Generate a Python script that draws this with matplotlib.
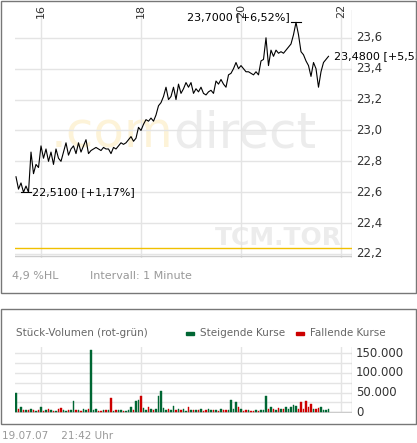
import numpy as np
import matplotlib
matplotlib.use("Agg")
import matplotlib.pyplot as plt
from matplotlib.patches import Rectangle

start_hour = 15.5
step_hour = 0.05
prices = [
    22.70, 22.62, 22.66, 22.60, 22.64, 22.60, 22.86, 22.72, 22.78, 22.76,
    22.90, 22.82, 22.88, 22.80, 22.86, 22.78, 22.88, 22.82, 22.80, 22.86,
    22.92, 22.84, 22.88, 22.90, 22.85, 22.92, 22.86, 22.90, 22.94, 22.85,
    22.87, 22.88, 22.89, 22.88, 22.87, 22.89, 22.88, 22.88, 22.85, 22.89,
    22.88, 22.90, 22.92, 22.91, 22.92, 22.94, 22.96, 22.93, 22.95, 23.02,
    23.00, 23.04, 23.07, 23.06, 23.08, 23.06, 23.10, 23.16, 23.18, 23.22,
    23.28, 23.20, 23.22, 23.28, 23.20, 23.30, 23.24, 23.27, 23.31, 23.28,
    23.31, 23.24, 23.27, 23.25, 23.28, 23.24, 23.23, 23.25, 23.26, 23.24,
    23.32, 23.30, 23.33, 23.30, 23.28, 23.36, 23.37, 23.40, 23.44, 23.40,
    23.42, 23.40, 23.38, 23.38, 23.37, 23.36, 23.38, 23.36, 23.45, 23.46,
    23.60, 23.42, 23.52, 23.48, 23.52, 23.50, 23.51, 23.50, 23.52, 23.54,
    23.56, 23.62, 23.70, 23.62, 23.51, 23.49, 23.45, 23.42, 23.35, 23.44,
    23.40, 23.28, 23.38, 23.44, 23.46, 23.48,
]
volumes = [
    50000, 8000, 12000, 5000, 4000, 6000, 9000, 4000, 3000, 5000,
    12000, 3000, 5000, 7000, 4000, 3000, 2000, 8000, 10000, 4000,
    3000, 6000, 5000, 27000, 4000, 6000, 3000, 8000, 5000, 7000,
    160000, 4000, 9000, 3000, 2000, 5000, 4000, 6000, 35000, 3000,
    5000, 4000, 6000, 3000, 2000, 5000, 14000, 4000, 28000, 30000,
    40000, 10000, 6000, 12000, 8000, 4000, 9000, 40000, 55000, 10000,
    5000, 8000, 4000, 15000, 6000, 7000, 4000, 8000, 3000, 12000,
    6000, 5000, 4000, 6000, 7000, 3000, 5000, 8000, 4000, 6000,
    5000, 3000, 7000, 4000, 5000, 6000, 30000, 8000, 26000, 12000,
    9000, 3000, 5000, 4000, 3000, 2000, 4000, 3000, 6000, 5000,
    42000, 9000, 12000, 8000, 6000, 10000, 7000, 9000, 14000, 8000,
    12000, 18000, 15000, 9000, 25000, 8000, 27000, 12000, 20000, 9000,
    7000, 10000, 12000, 6000, 5000, 8000,
]
hour_ticks = [16, 18, 20, 22]
price_ticks = [22.2, 22.4, 22.6, 22.8, 23.0, 23.2, 23.4, 23.6]
vol_ticks = [0, 50000, 100000, 150000]

GREEN = "#006633"
RED = "#cc0000"
GRID = "#e4e4e4"
GRAYTXT = "#999999"

t = start_hour + step_hour * np.arange(len(prices))
p = np.array(prices)

W, H = 417, 443
fig = plt.figure(figsize=(W / 100, H / 100), dpi=100)
fig.patch.set_facecolor("white")

def fx(px): return px / W
def fy(py): return 1 - py / H

fig.patches.append(Rectangle((fx(1), fy(293)), fx(415), 292 / H, transform=fig.transFigure,
                             fill=False, ec="#777777", lw=1))
fig.patches.append(Rectangle((fx(1), fy(424)), fx(415), 115 / H, transform=fig.transFigure,
                             fill=False, ec="#777777", lw=1))

ax = fig.add_axes([fx(15), fy(258), fx(337), 248 / H])
ax.set_xlim(15.48, 22.22)
ax.set_ylim(22.174, 23.78)
for s in ax.spines.values():
    s.set_visible(False)
ax.set_xticks(hour_ticks)
ax.set_yticks(price_ticks)
ax.tick_params(length=0, labelleft=False, labelbottom=False)
ax.grid(True, color=GRID, lw=1)
ax.axvline(22.22, color="#cccccc", lw=1)
ax.axhline(22.185, color="#cccccc", lw=1)
ax.axhline(22.24, color="#f0c000", lw=1, zorder=2)

ax.text(0.47, 0.5, ".com", transform=ax.transAxes, fontsize=36, color="#fdf3d8",
        ha="right", va="center", family="DejaVu Sans", zorder=0)
ax.text(0.47, 0.5, "direct", transform=ax.transAxes, fontsize=36, color="#ececec",
        ha="left", va="center", family="DejaVu Sans", zorder=0)
ax.text(0.97, 0.08, "TCM.TOR", transform=ax.transAxes, fontsize=18, color="#ececec",
        ha="right", va="center", fontweight="bold", zorder=0)

ax.plot(t, p, color="black", lw=0.8, zorder=3)

imax = int(np.argmax(p)); imin = int(np.argmin(p))
ax.plot([t[imax] - 0.1, t[imax] + 0.1], [p[imax]] * 2, color="black", lw=0.8)
ax.text(t[imax] - 0.12, p[imax], "23,7000 [+6,52%]", ha="right", va="bottom", fontsize=8)
ax.plot([t[imin] - 0.05, t[imin] + 0.15], [p[imin]] * 2, color="black", lw=0.8)
ax.text(t[imin] + 0.17, p[imin], "22,5100 [+1,17%]", ha="left", va="center", fontsize=8)
ax.text(t[-1] + 0.1, p[-1], "23,4800 [+5,53%]", ha="left", va="center", fontsize=8, clip_on=False)

for v in price_ticks:
    ax.text(22.3, v, f"{v:.1f}".replace(".", ","), ha="left", va="center", fontsize=8.5, color="#333333")
for h in hour_ticks:
    fig.text(fx(15 + (h - 15.48) * 50), fy(4), str(h), rotation=90, ha="center", va="top",
             fontsize=8, color="#333333")

fig.text(fx(12), fy(276), "4,9 %HL", fontsize=8, color=GRAYTXT, va="center")
fig.text(fx(90), fy(276), "Intervall: 1 Minute", fontsize=8, color=GRAYTXT, va="center")

axv = fig.add_axes([fx(15), fy(413), fx(337), 66 / H])
axv.set_xlim(15.48, 22.22)
axv.set_ylim(-2500, 166600)
for s in axv.spines.values():
    s.set_visible(False)
axv.set_xticks(hour_ticks)
axv.set_yticks(np.arange(0, 175000, 25000))
axv.tick_params(length=0, labelleft=False, labelbottom=False)
axv.grid(True, color=GRID, lw=1)
axv.axvline(22.22, color="#cccccc", lw=1)
axv.axhline(0, color="#cccccc", lw=1)
diffs = np.diff(np.concatenate([[p[0] - 0.01], p]))
cols = [GREEN if d >= 0 else RED for d in diffs]
axv.bar(t, volumes, width=0.025, color=cols, ec=cols, lw=0.3, zorder=3)
for v in vol_ticks:
    axv.text(22.3, v, f"{v:,}".replace(",", "."), ha="left", va="center", fontsize=8.5, color="#333333")

fig.text(fx(16), fy(333), "Stück-Volumen (rot-grün)", fontsize=7.5, color="#666666", va="center")
fig.patches.append(Rectangle((fx(186), fy(335)), fx(8), 3 / H, transform=fig.transFigure, color=GREEN))
fig.text(fx(200), fy(333), "Steigende Kurse", fontsize=7.5, color="#666666", va="center")
fig.patches.append(Rectangle((fx(296), fy(335)), fx(8), 3 / H, transform=fig.transFigure, color=RED))
fig.text(fx(310), fy(333), "Fallende Kurse", fontsize=7.5, color="#666666", va="center")

fig.text(fx(2), fy(436), "19.07.07    21:42 Uhr", fontsize=7.5, color=GRAYTXT, va="center")

fig.savefig("out.png", dpi=100)
